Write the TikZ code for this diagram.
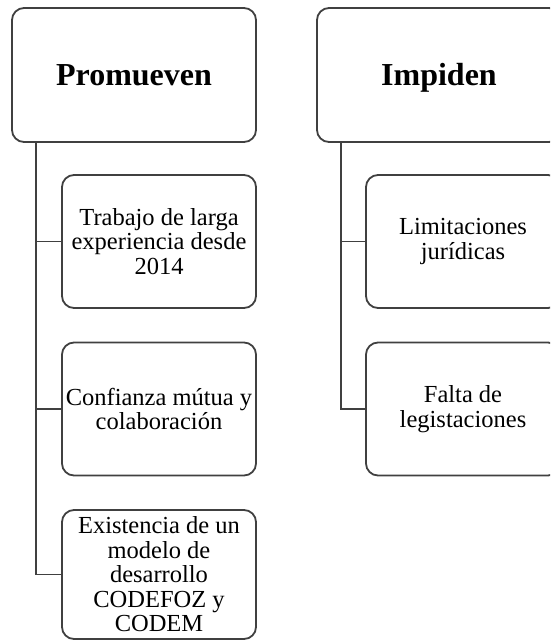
\documentclass[tikz,border=0pt]{standalone}
\usepackage{fontspec}
\setmainfont{Liberation Serif}
\begin{document}
\begin{tikzpicture}[x=1pt,y=-1pt,
  box/.style={draw=black!75, line width=1.8pt, rounded corners=12pt, fill=white, inner sep=0pt, align=center},
  head/.style={box, minimum width=244pt, minimum height=134pt, text height=24pt, text depth=4pt, font=\fontsize{32}{36}\selectfont\bfseries},
  item/.style={box, minimum width=194pt, minimum height=133pt, font=\fontsize{24.5}{24.5}\selectfont},
  link/.style={draw=black!75, line width=1.8pt}]
\useasboundingbox (0,0) rectangle (550,641);
\clip (0,0) rectangle (550,641);
\node[head] (prom) at (134,75) {Promueven};
\node[head] (imp) at (439,75) {Impiden};
\node[item] (a1) at (159,241.5) {Trabajo de larga\\experiencia desde\\2014};
\node[item] (a2) at (159,409) {Confianza mútua y\\colaboración};
\node[item, minimum height=129pt] (a3) at (159,574.5) {Existencia de un\\modelo de\\desarrollo\\CODEFOZ y\\CODEM};
\node[item] (b1) at (463,241.5) {Limitaciones\\jurídicas};
\node[item] (b2) at (463,409) {Falta de\\legistaciones};
\coordinate (pv) at ([xshift=25pt]prom.south west);
\coordinate (iv) at ([xshift=25pt]imp.south west);
\draw[link] (pv) |- (a3.west);
\draw[link] (pv |- a1.west) -- (a1.west);
\draw[link] (pv |- a2.west) -- (a2.west);
\draw[link] (iv) |- (b2.west);
\draw[link] (iv |- b1.west) -- (b1.west);
\end{tikzpicture}
\end{document}
